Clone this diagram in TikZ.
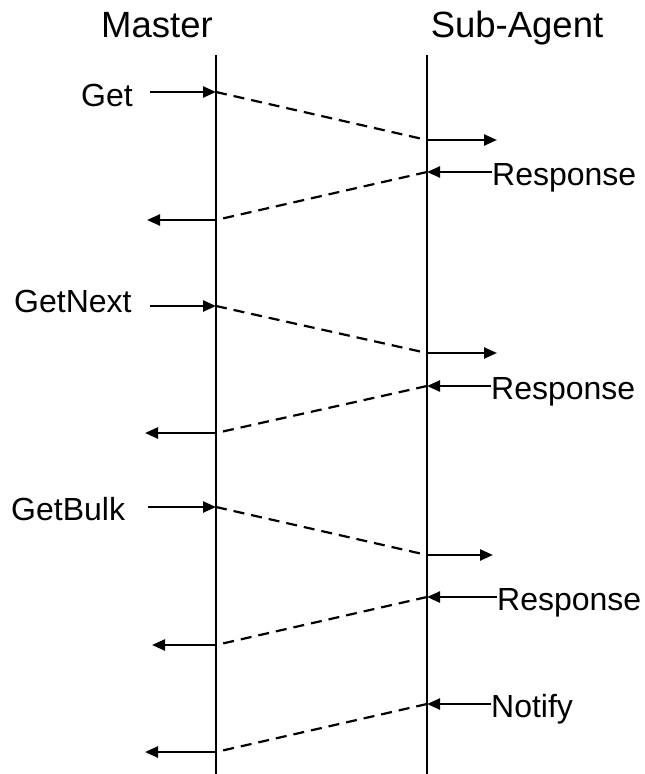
\documentclass[tikz,border=0pt]{standalone}
\usepackage{fontspec}
\setmainfont{Liberation Sans}
\usetikzlibrary{arrows.meta}
\begin{document}
\begin{tikzpicture}[x=1pt,y=-1pt,
  life/.style={line width=2.3pt},
  msg/.style={line width=2.4pt,-{Triangle[length=13pt,width=11pt]}},
  relay/.style={line width=2.2pt,dash pattern=on 11pt off 7pt},
  title/.style={font=\fontsize{36.5}{40}\selectfont, inner sep=0pt},
  lbl/.style={font=\fontsize{32}{34}\selectfont, inner sep=0pt}]
\useasboundingbox (0,0) rectangle (645,774);
% titles
\node[title,anchor=base] (mT) at (157,37) {Master};
\node[title,anchor=base] (sT) at (517,37) {Sub-Agent};
% lifelines
\coordinate (mTop) at (216,55); \coordinate (mBot) at (216,774);
\coordinate (sTop) at (427,55); \coordinate (sBot) at (427,774);
\draw[life] (mTop) -- (mBot);
\draw[life] (sTop) -- (sBot);
% group 1
\coordinate (m1) at (216,92);  \coordinate (s1) at (427,140); \coordinate (s1o) at (497,140);
\coordinate (s2) at (427,172); \coordinate (m2) at (216,220); \coordinate (m2o) at (147,220);
\node[lbl,anchor=base west] (get) at (81,106) {Get};
\node[lbl,anchor=base west] (r1) at (492,185) {Response};
\draw[msg] ([xshift=17pt]get.east |- m1) -- (m1);
\draw[relay] (m1) -- (s1);
\draw[msg] (s1) -- (s1o);
\draw[msg] (r1.west |- s2) -- (s2);
\draw[relay] (s2) -- (m2);
\draw[msg] (m2) -- (m2o);
% group 2
\coordinate (m3) at (216,306); \coordinate (s3) at (427,353); \coordinate (s3o) at (497,353);
\coordinate (s4) at (427,386); \coordinate (m4) at (216,433); \coordinate (m4o) at (145,433);
\node[lbl,anchor=base west] (getnext) at (14,312) {GetNext};
\node[lbl,anchor=base west] (r2) at (491,399) {Response};
\draw[msg] ([xshift=18pt]getnext.east |- m3) -- (m3);
\draw[relay] (m3) -- (s3);
\draw[msg] (s3) -- (s3o);
\draw[msg] (r2.west |- s4) -- (s4);
\draw[relay] (s4) -- (m4);
\draw[msg] (m4) -- (m4o);
% group 3
\coordinate (m5) at (216,507); \coordinate (s5) at (427,555); \coordinate (s5o) at (493,555);
\coordinate (s6) at (427,597); \coordinate (m6) at (216,645); \coordinate (m6o) at (152,645);
\node[lbl,anchor=base west] (getbulk) at (11,520) {GetBulk};
\node[lbl,anchor=base west] (r3) at (497,610) {Response};
\draw[msg] ([xshift=23pt]getbulk.east |- m5) -- (m5);
\draw[relay] (m5) -- (s5);
\draw[msg] (s5) -- (s5o);
\draw[msg] (r3.west |- s6) -- (s6);
\draw[relay] (s6) -- (m6);
\draw[msg] (m6) -- (m6o);
% notify
\coordinate (s7) at (427,704); \coordinate (m7) at (216,752); \coordinate (m7o) at (145,752);
\node[lbl,anchor=base west] (notify) at (491,717) {Notify};
\draw[msg] (notify.west |- s7) -- (s7);
\draw[relay] (s7) -- (m7);
\draw[msg] (m7) -- (m7o);
\end{tikzpicture}
\end{document}
